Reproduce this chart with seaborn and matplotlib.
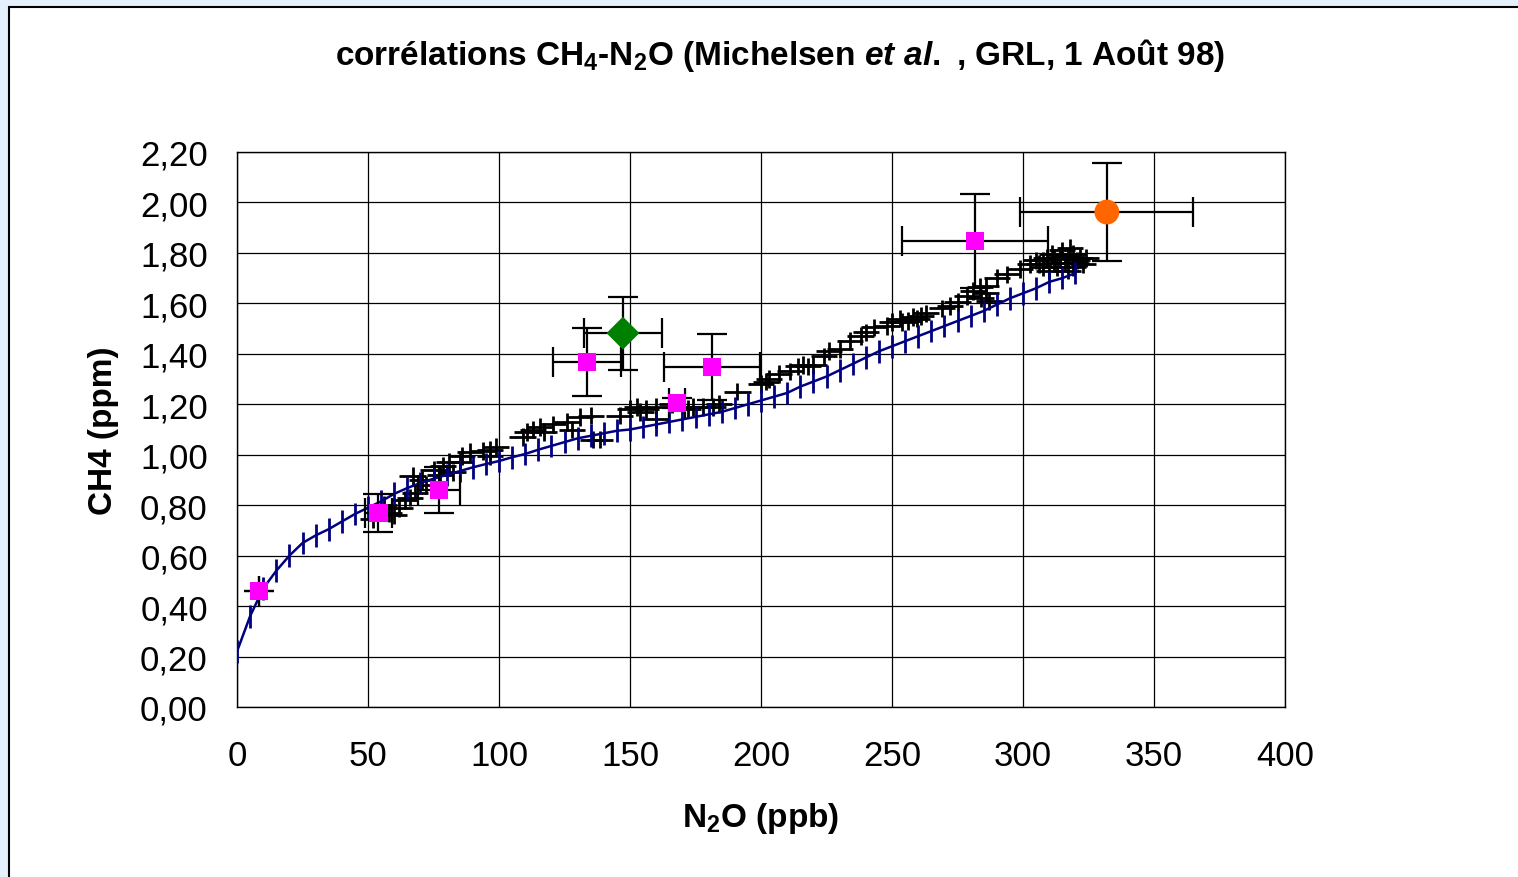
import numpy as np
import matplotlib
matplotlib.use("Agg")
import matplotlib.pyplot as plt
from matplotlib.patches import Rectangle
from matplotlib.ticker import MultipleLocator, FuncFormatter
import seaborn as sns

# model curve (blue line), one point every 5 ppb
model_n2o = [0, 5, 10, 15, 20, 25, 30, 35, 40, 45, 50, 55, 60, 65, 70, 75, 80,
    85, 90, 95, 100, 105, 110, 115, 120, 125, 130, 135, 140, 145, 150, 155,
    160, 165, 170, 175, 180, 185, 190, 195, 200, 205, 210, 215, 220, 225, 230,
    235, 240, 245, 250, 255, 260, 265, 270, 275, 280, 285, 290, 295, 300, 305,
    310, 315, 320]
model_ch4 = [0.22, 0.36, 0.47, 0.54, 0.60, 0.65, 0.68, 0.705, 0.735, 0.765,
    0.79, 0.815, 0.845, 0.868, 0.888, 0.905, 0.92, 0.935, 0.95, 0.963, 0.975,
    0.99, 1.003, 1.02, 1.035, 1.05, 1.065, 1.075, 1.085, 1.095, 1.10, 1.11,
    1.12, 1.13, 1.14, 1.15, 1.16, 1.17, 1.185, 1.20, 1.215, 1.23, 1.245, 1.27,
    1.29, 1.31, 1.335, 1.36, 1.385, 1.41, 1.43, 1.45, 1.47, 1.49, 1.51, 1.53,
    1.55, 1.57, 1.595, 1.62, 1.64, 1.66, 1.685, 1.70, 1.72]
model_err = 0.045

# in-situ measurements (black crosses)
meas_n2o = [52, 56, 58, 60, 62, 64, 66, 67, 68, 70.6, 72, 75, 77.5, 78.6, 81,
    82.5, 85, 86, 89, 94, 96.5, 96.5, 99,
    109, 110.7, 113, 115.6, 117, 120.6, 126, 128, 131, 135, 136, 138.5, 146,
    150, 152.6, 154, 156, 160, 160, 166, 172, 174, 178, 181.7, 184, 191, 200,
    202,
    203, 207, 211, 214, 216, 218, 220, 224, 226, 230, 234, 238, 240, 243, 248,
    250, 253, 254, 256, 258, 259.5, 261, 263, 269, 272,
    275, 278.6, 281, 283.6, 286, 286, 287, 284, 290, 294, 299, 302.7, 305,
    307.6, 309, 311, 314, 315, 317, 318, 319, 320.6, 321.8, 323, 324, 313, 310,
    317, 319, 307.6, 312, 316, 314, 320, 306, 312]
meas_ch4 = [0.745, 0.80, 0.77, 0.76, 0.79, 0.82, 0.83, 0.915, 0.85, 0.90, 0.88,
    0.94, 0.92, 0.955, 0.97, 0.93, 0.97, 0.995, 1.01, 1.015, 1.02, 0.995, 1.03,
    1.07, 1.09, 1.10, 1.11, 1.09, 1.12, 1.13, 1.10, 1.15, 1.155, 1.06, 1.06,
    1.155, 1.18, 1.19, 1.17, 1.18, 1.19, 1.14, 1.20, 1.18, 1.19, 1.19, 1.19,
    1.20, 1.25, 1.28, 1.29,
    1.30, 1.32, 1.33, 1.35, 1.355, 1.35, 1.355, 1.39, 1.41, 1.42, 1.45, 1.47,
    1.485, 1.505, 1.51, 1.525, 1.54, 1.525, 1.53, 1.545, 1.54, 1.55, 1.56,
    1.58, 1.59,
    1.605, 1.63, 1.65, 1.665, 1.67, 1.64, 1.61, 1.62, 1.70, 1.715, 1.735, 1.755,
    1.77, 1.77, 1.78, 1.795, 1.79, 1.81, 1.785, 1.82, 1.795, 1.77, 1.78, 1.755,
    1.78, 1.745, 1.73, 1.73, 1.745, 1.745, 1.76, 1.76, 1.775, 1.76, 1.755,
    1.78]
meas_xerr = 5
meas_yerr = 0.035

# other observations (magenta squares)
sq_n2o = [8.5, 54, 77, 133.5, 168, 181.3, 281.7]
sq_ch4 = [0.46, 0.77, 0.86, 1.367, 1.205, 1.348, 1.847]
sq_xerr = [0, 5, 8, 13, 3, 18.3, 28]
sq_yerr = [0, 0.075, 0.09, 0.135, 0.02, 0.13, 0.185]

# green diamond and orange circle
dia_n2o, dia_ch4, dia_xerr, dia_yerr = [147.3], [1.482], [15], [0.145]
circ_n2o, circ_ch4, circ_xerr, circ_yerr = [332], [1.962], [33], [0.196]

sns.set_theme(style="white")
plt.rcParams['font.family'] = ['Liberation Sans', 'DejaVu Sans']
plt.rcParams['mathtext.fontset'] = 'custom'
plt.rcParams['mathtext.rm'] = 'Liberation Sans:bold'
plt.rcParams['mathtext.bf'] = 'Liberation Sans:bold'
plt.rcParams['mathtext.it'] = 'Liberation Sans:bold:italic'

fig = plt.figure(figsize=(15.18, 8.78), dpi=100)
fig.patch.set_facecolor('#e4f1fd')
fig.patches.append(Rectangle((9 / 1518, -0.01), 1.0, 1 - 8 / 878 + 0.01,
    transform=fig.transFigure, facecolor='white', edgecolor='black',
    linewidth=1.5, zorder=-5))

ax = fig.add_axes([237 / 1518, 1 - 708 / 878, 1048 / 1518, 555 / 878])
ax.set_zorder(2)
ax.set_facecolor('white')

# black crosses
ax.errorbar(meas_n2o, meas_ch4, xerr=meas_xerr, yerr=meas_yerr, fmt='none',
    ecolor='black', elinewidth=2.0, capsize=0, zorder=3)

# model
sns.lineplot(x=model_n2o, y=model_ch4, ax=ax, color='#000080', linewidth=1.8,
    zorder=4)
ax.errorbar(model_n2o, model_ch4, yerr=model_err, fmt='none', ecolor='#000080',
    elinewidth=2.0, capsize=0, zorder=4)

# points with error bars
ax.errorbar(sq_n2o, sq_ch4, xerr=sq_xerr, yerr=sq_yerr, fmt='none',
    ecolor='black', elinewidth=1.6, capsize=11, capthick=1.6, zorder=5)
ax.errorbar(dia_n2o, dia_ch4, xerr=dia_xerr, yerr=dia_yerr, fmt='none',
    ecolor='black', elinewidth=1.6, capsize=11, capthick=1.6, zorder=5)
ax.errorbar(circ_n2o, circ_ch4, xerr=circ_xerr, yerr=circ_yerr, fmt='none',
    ecolor='black', elinewidth=1.6, capsize=11, capthick=1.6, zorder=5)
sns.scatterplot(x=sq_n2o, y=sq_ch4, ax=ax, marker='s', s=170, color='#ff00ff',
    edgecolor='none', zorder=6)
sns.scatterplot(x=dia_n2o, y=dia_ch4, ax=ax, marker='D', s=280, color='#008000',
    edgecolor='none', zorder=6)
sns.scatterplot(x=circ_n2o, y=circ_ch4, ax=ax, marker='o', s=320,
    color='#ff6600', edgecolor='none', zorder=6)

ax.set_xlim(0, 400)
ax.set_ylim(0, 2.2)
ax.xaxis.set_major_locator(MultipleLocator(50))
ax.yaxis.set_major_locator(MultipleLocator(0.2))
ax.yaxis.set_major_formatter(FuncFormatter(lambda v, p: f"{v:.2f}".replace('.', ',')))
ax.grid(True, color='black', linewidth=0.9)
ax.set_axisbelow(True)
for s in ax.spines.values():
    s.set_color('black')
    s.set_linewidth(1.0)
ax.tick_params(axis='both', direction='out', length=7, width=1, color='black',
    labelsize=25, labelcolor='black')
ax.tick_params(axis='x', pad=16)
ax.tick_params(axis='y', pad=14)

ax.set_xlabel("N$_2$O (ppb)", fontsize=24, fontweight='bold', labelpad=20,
    color='black')
ax.set_ylabel("CH4 (ppm)", fontsize=24, fontweight='bold', labelpad=15,
    color='black')
fig.text(0.514, 0.937, r"corrélations CH$_4$-N$_2$O (Michelsen $\mathit{et\ al.}$ , GRL, 1 Août 98)",
    ha='center', va='center', fontsize=24, fontweight='bold', color='black')

fig.savefig('out.png', dpi=100, facecolor=fig.get_facecolor())
